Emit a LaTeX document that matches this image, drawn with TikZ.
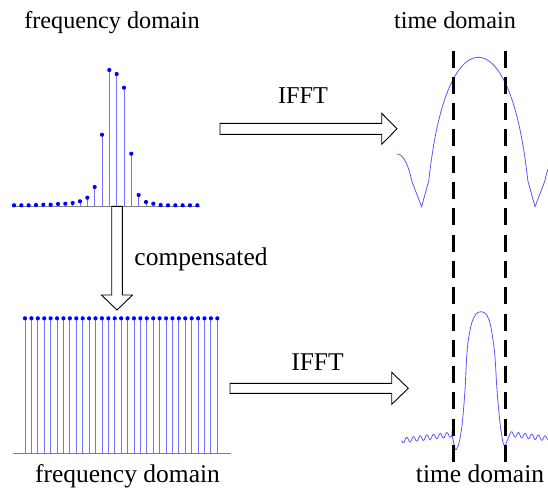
\documentclass[tikz,border=0pt]{standalone}
\usepackage{fontspec}
\setmainfont{Liberation Serif}
\usetikzlibrary{calc}

\begin{document}
\begin{tikzpicture}[x=1pt,y=-1pt,
  declare function={sdb(\u)=57.3-63.4*ln(abs(sin(180*\u)/(pi*\u)));},
  stem/.style={blue!55,line width=0.8pt},
  dot/.style={fill=blue},
  axisline/.style={gray,line width=0.9pt},
  curve/.style={blue!65,line width=0.8pt},
  marker/.style={black,line width=2.6pt,dash pattern=on 17pt off 9.3pt},
  blockarrow/.style={draw=black,fill=white,line width=0.9pt,line join=miter},
  toplabel/.style={font=\fontsize{24.2}{29}\selectfont,anchor=base,inner sep=0},
  botlabel/.style={font=\fontsize{25.5}{30}\selectfont,anchor=base,inner sep=0}]
\useasboundingbox (0,0) rectangle (548,488);

% Labels
\node[toplabel] (freqtop) at (112,28.3) {frequency domain};
\node[toplabel] (timetop) at (455,28.3) {time domain};
\node[toplabel] (iffttop) at (303,103.3) {IFFT};
\node[botlabel] (comp) at (201,265) {compensated};
\node[botlabel] (ifftbot) at (317.5,370) {IFFT};
\node[botlabel] (freqbot) at (127.5,482.3) {frequency domain};
\node[botlabel] (timebot) at (480,482.8) {time domain};

% spectrum before
\draw[axisline] (12,206) -- (200,206);
\foreach \h [count=\i from 0] in {0.7,0.7,0.7,1,1.3,1.3,2,2.3,3,4.7,8.3,19,71.3,136,132,118.3,52.3,11,4,2.3,1,0.7,0.7,0.7,0.7,0.7}{
  \draw[stem] ({14+7.333*\i},206) -- ({14+7.333*\i},{206-\h});
  \fill[dot] ({14+7.333*\i},{206-\h}) circle (2.1pt);
}

% spectrum after
\draw[axisline] (13,453.3) -- (230.7,453.3);
\foreach \i in {0,...,30}{
  \draw[stem] ({25+6.41*\i},453.3) -- ({25+6.41*\i},318.3);
  \fill[dot] ({25+6.41*\i},318.3) circle (2.1pt);
}

% time signals
\draw[curve] plot[domain=-1.43:-1.17,samples=20] ({478.3+56.7*\x},{sdb(\x)})
  -- (421.6,206.7)
  -- plot[domain=-0.874:0.874,samples=80] ({478.3+56.7*\x},{sdb(\x)})
  -- (535,206.7)
  -- plot[domain=1.17:1.229,samples=5] ({478.3+56.7*\x},{sdb(\x)});

\draw[curve] plot[domain=0:50.3,samples=150] ({401.7+\x},{440.5-0.12*\x+2.5*sin(53.731*\x)})
  -- plot[smooth] coordinates {(452,434.3) (455.5,449.5) (459,443) (462.3,423) (465,390) (466.7,357)
     (468.3,340) (471.7,323) (476,314) (481,311.7) (486,314) (490,323) (493,340) (495,357)
     (497,390) (500,423) (502.5,440) (504.7,446) (507.5,440) (510,434)}
  -- plot[domain=0:37.5,samples=110] ({510+\x},{434+0.12*\x-2.5*sin(53.731*\x)});

% window markers
\coordinate (winL) at (453.3,50.5);
\coordinate (winR) at (505.7,50.5);
\draw[marker] (winL) -- (winL |- 0,462.5);
\draw[marker] (winR) -- (winR |- 0,462.5);

%arrows
\coordinate (iffttail) at (220,128.8);
\coordinate (ifftbtail) at (230,388.3);
\coordinate (comptail) at (117,206.3);
\draw[blockarrow] (iffttail) ++(0,-5.5) -- ++(161.7,0) -- ++(0,-10) -- ++(15.3,15.5)
  -- ++(-15.3,15.5) -- ++(0,-10) -- ++(-161.7,0) -- cycle;
\draw[blockarrow] (ifftbtail) ++(0,-5) -- ++(161.7,0) -- ++(0,-11) -- ++(16.6,16)
  -- ++(-16.6,16) -- ++(0,-11) -- ++(-161.7,0) -- cycle;
\draw[blockarrow] (comptail) ++(-5.3,0) -- ++(0,88.7) -- ++(-10.2,0) -- ++(15.5,15)
  -- ++(15.5,-15) -- ++(-10.2,0) -- ++(0,-88.7) -- cycle;

\end{tikzpicture}
\end{document}
